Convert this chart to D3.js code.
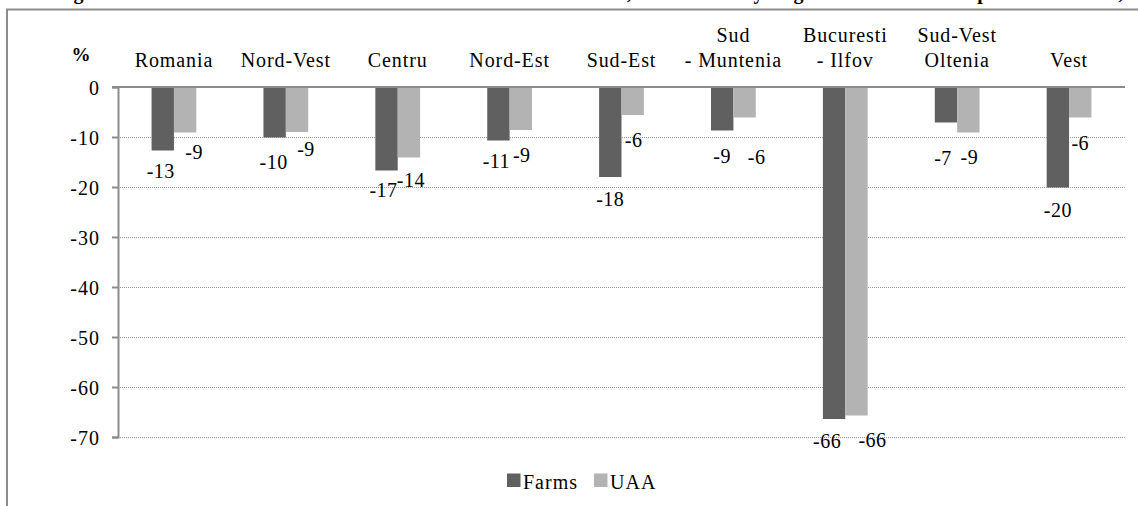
<!DOCTYPE html>
<html>
<head>
<meta charset="utf-8">
<script src="https://cdn.jsdelivr.net/npm/d3@7"></script>
<style>
  html, body { margin: 0; padding: 0; background: #fff; }
  svg { display: block; overflow: hidden; }
  text { font-family: "Liberation Serif", "Times New Roman", serif; fill: #000; }
</style>
</head>
<body>
<svg id="chart" width="1138" height="506"></svg>
<script>
// ---- data ----
const categories = ["Romania", "Nord-Vest", "Centru", "Nord-Est", "Sud-Est", "Sud\n- Muntenia", "Bucuresti\n- Ilfov", "Sud-Vest\nOltenia", "Vest"];
const seriesNames = ["Farms", "UAA"];
const farms = [-12.7, -10.1, -16.7, -10.7, -18.0, -8.7, -66.4, -7.1, -20.1];
const uaa = [-9.1, -9.0, -14.1, -8.6, -5.6, -6.1, -65.7, -9.1, -6.1];
const yTicks = [0, -10, -20, -30, -40, -50, -60, -70];
const titleText = "Figure 4. Evolution of the number of farms and of UAA, total and by regions in 2010 compared to 2002, %";

// ---- layout / style ----
const colors = { Farms: "#606060", UAA: "#b3b3b3" };
// small nudges of the data labels (px) relative to their default spot below the bar end
const labelNudgeFarms = [[-2, -2], [-1, 2], [-3, -3], [-2, -2], [0, 0], [0, 3], [-7, 0], [-3, 13], [0, 0]];
const labelNudgeUAA = [[9, -3], [9, -5], [2, 0], [1, 3], [1, 3], [12, 17], [16, 2], [1, 2], [0, 3]];

const fmt = v => String(Math.round(v));

const svg = d3.select("#chart");

// outer frame
svg.append("path")
  .attr("d", "M7,520 L7,9.5 L1145,9.5")
  .attr("fill", "none").attr("stroke", "#8c8c8c").attr("stroke-width", 2);

// clipped caption above the frame (only its lower edge is visible)
svg.append("text")
  .attr("x", 52).attr("y", -1)
  .attr("font-size", 20).attr("font-weight", "bold")
  .attr("textLength", 1100).attr("lengthAdjust", "spacing")
  .text(titleText);

const plotL = 118, plotR = 1125, plotT = 87, plotB = 437;

const y = d3.scaleLinear().domain([-70, 0]).range([plotB, plotT]);
const x0 = d3.scaleBand().domain(categories).range([plotL, plotR]).paddingInner(0).paddingOuter(0);
const x1 = d3.scaleBand().domain(seriesNames).range([0, x0.bandwidth()]).paddingInner(0).paddingOuter(1.5);

// gridlines (dotted)
svg.append("g").selectAll("line")
  .data(yTicks.filter(t => t !== 0))
  .join("line")
  .attr("x1", plotL).attr("x2", plotR)
  .attr("y1", d => Math.round(y(d)) + 0.5).attr("y2", d => Math.round(y(d)) + 0.5)
  .attr("stroke", "#9a9a9a").attr("stroke-width", 1)
  .attr("stroke-dasharray", "1,1");

// y axis
const yAxis = d3.axisLeft(y).tickValues(yTicks).tickSize(6).tickPadding(12).tickFormat(fmt);
const gy = svg.append("g").attr("transform", `translate(${plotL},0)`).call(yAxis);
gy.attr("font-family", null).attr("font-size", null);
gy.select(".domain").attr("stroke", "#8c8c8c").attr("stroke-width", 2);
gy.selectAll(".tick line").attr("stroke", "#8c8c8c").attr("stroke-width", 2);
gy.selectAll(".tick text")
  .attr("font-size", 20)
  .attr("fill", "#000").attr("letter-spacing", "1px").attr("dy", "0.36em");

// bars
const groups = svg.append("g").selectAll("g")
  .data(categories.map((c, i) => ({ c, i })))
  .join("g")
  .attr("transform", d => `translate(${x0(d.c)},0)`);

groups.selectAll("rect")
  .data(d => [
    { s: "Farms", v: farms[d.i] },
    { s: "UAA", v: uaa[d.i] }
  ])
  .join("rect")
  .attr("x", d => x1(d.s))
  .attr("width", x1.bandwidth())
  .attr("y", y(0))
  .attr("height", d => y(d.v) - y(0))
  .attr("fill", d => colors[d.s]);

// zero axis line
svg.append("line")
  .attr("x1", plotL - 6).attr("x2", plotR)
  .attr("y1", y(0)).attr("y2", y(0))
  .attr("stroke", "#8c8c8c").attr("stroke-width", 2);

// data labels
groups.selectAll("text.val")
  .data(d => [
    { s: "Farms", v: farms[d.i], n: labelNudgeFarms[d.i] },
    { s: "UAA", v: uaa[d.i], n: labelNudgeUAA[d.i] }
  ])
  .join("text")
  .attr("class", "val")
  .attr("x", d => x1(d.s) + x1.bandwidth() / 2 + d.n[0])
  .attr("y", d => y(d.v) + 29 + d.n[1])
  .attr("text-anchor", "middle")
  .attr("font-size", 20)
  .attr("letter-spacing", "0.5px")
  .text(d => fmt(d.v));

// category labels on top
const catLabels = svg.append("g").selectAll("text")
  .data(categories)
  .join("text")
  .attr("x", d => x0(d) + x0.bandwidth() / 2)
  .attr("y", d => d.includes("\n") ? 41.7 : 66.7)
  .attr("text-anchor", "middle")
  .attr("font-size", 20)
  .attr("letter-spacing", "0.9px");
catLabels.each(function(d) {
  const lines = d.split("\n");
  const t = d3.select(this);
  lines.forEach((ln, k) => {
    t.append("tspan")
      .attr("x", x0(d) + x0.bandwidth() / 2)
      .attr("dy", k === 0 ? 0 : 25)
      .text(ln);
  });
});

// % unit label
svg.append("text")
  .attr("x", 81).attr("y", 61)
  .attr("text-anchor", "middle")
  .attr("font-size", 19).attr("font-weight", "bold")
  .text("%");

// legend
const legend = svg.append("g");
const legendItems = [{ s: "Farms", x: 507 }, { s: "UAA", x: 594 }];
legendItems.forEach(it => {
  legend.append("rect")
    .attr("x", it.x).attr("y", 473.5)
    .attr("width", 13.5).attr("height", 13.5)
    .attr("fill", colors[it.s]);
  legend.append("text")
    .attr("x", it.x + 16).attr("y", 489)
    .attr("font-size", 20)
    .attr("letter-spacing", "1px")
    .text(it.s);
});
</script>
</body>
</html>
